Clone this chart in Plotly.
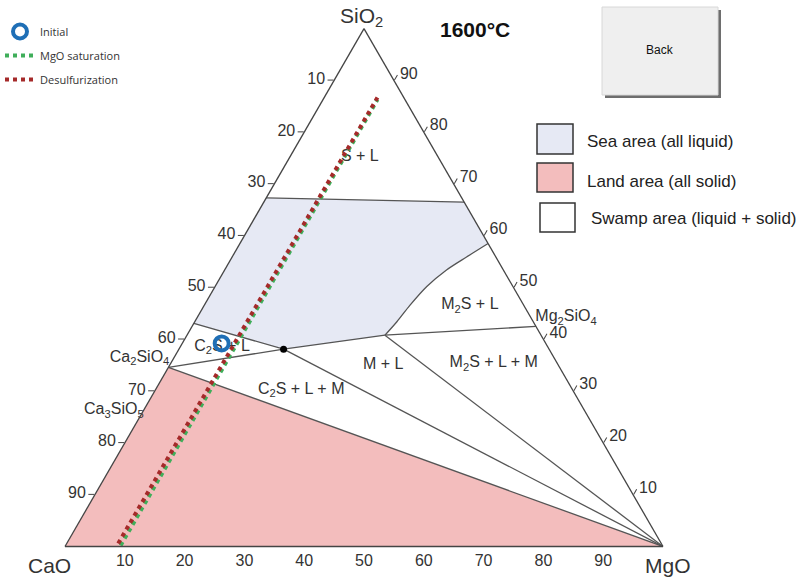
import plotly.graph_objects as go

# ---------------- data (wt%) : CaO, SiO2, MgO ----------------
tick_vals = [10, 20, 30, 40, 50, 60, 70, 80, 90]

# Sea area (all liquid)
sea_cao = [32.7, 0.0, 0.0, 4.9, 9.5, 14.4, 19.0, 22.8, 26.1, 44.4, 56.9]
sea_sio2 = [67.3, 66.5, 58.5, 55.9, 53.4, 50.2, 46.6, 43.4, 40.8, 38.1, 43.1]
sea_mgo = [0.0, 33.5, 41.5, 39.2, 37.1, 35.4, 34.4, 33.8, 33.1, 17.5, 0.0]

# Land area (all solid): Ca2SiO4 - MgO - CaO
land_cao = [65.4, 0.0, 100.0]
land_sio2 = [34.6, 0.0, 0.0]
land_mgo = [0.0, 100.0, 0.0]

# phase boundaries
top_line_cao, top_line_sio2, top_line_mgo = [32.7, 0.0], [67.3, 66.5], [0.0, 33.5]
m2s_curve_cao = [0.0, 4.9, 9.5, 14.4, 19.0, 22.8, 26.1]
m2s_curve_sio2 = [58.5, 55.9, 53.4, 50.2, 46.6, 43.4, 40.8]
m2s_curve_mgo = [41.5, 39.2, 37.1, 35.4, 34.4, 33.8, 33.1]
c2s_upper_cao, c2s_upper_sio2, c2s_upper_mgo = [56.9, 44.4, 26.1], [43.1, 38.1, 40.8], [0.0, 17.5, 33.1]
mg2sio4_line_cao, mg2sio4_line_sio2, mg2sio4_line_mgo = [26.1, 0.0], [40.8, 42.5], [33.1, 57.5]
ml_right_cao, ml_right_sio2, ml_right_mgo = [26.1, 0.0], [40.8, 0.0], [33.1, 100.0]
ml_left_cao, ml_left_sio2, ml_left_mgo = [44.4, 0.0], [38.1, 0.0], [17.5, 100.0]
c2s_lower_cao, c2s_lower_sio2, c2s_lower_mgo = [65.4, 44.4], [34.6, 38.1], [0.0, 17.5]
land_top_cao, land_top_sio2, land_top_mgo = [65.4, 0.0], [34.6, 0.0], [0.0, 100.0]

# invariant point
dot_cao, dot_sio2, dot_mgo = [44.4], [38.1], [17.5]

# MgO saturation / desulfurization paths
mgo_sat_cao, mgo_sat_sio2, mgo_sat_mgo = [90.6, 4.6], [0.2, 86.3], [9.2, 9.1]
desulf_cao, desulf_sio2, desulf_mgo = [90.8, 4.4], [0.6, 86.7], [8.6, 8.9]

# initial slag
init_cao, init_sio2, init_mgo = [54.2], [39.2], [6.6]

# region labels
lab_text = ["S + L", "M<sub>2</sub>S + L", "M + L", "M<sub>2</sub>S + L + M",
            "C<sub>2</sub>S + L", "C<sub>2</sub>S + L + M"]
lab_cao = [13.1, 9.0, 29.3, 10.6, 54.5, 45.4]
lab_sio2 = [75.2, 46.6, 35.0, 35.4, 38.5, 30.2]
lab_mgo = [11.7, 44.4, 35.7, 54.0, 7.0, 24.4]

# compound labels
cmp_text = ["Ca<sub>2</sub>SiO<sub>4</sub>", "Ca<sub>3</sub>SiO<sub>5</sub>", "Mg<sub>2</sub>SiO<sub>4</sub>"]
cmp_cao = [65.1, 73.7, 0.0]
cmp_sio2 = [34.9, 26.3, 42.7]
cmp_mgo = [0.0, 0.0, 57.3]
cmp_pos = ["top left", "middle left", "top right"]

# vertex (component) names
vtx_text = ["SiO<sub>2</sub>", "CaO", "MgO"]

# ---------------- figure ----------------
fig = go.Figure()
LINE = "#555555"
TXT = "#333333"
FONT = "Liberation Sans, Arial"

fig.add_trace(go.Scatterternary(a=sea_sio2, b=sea_cao, c=sea_mgo, mode="lines",
                                fill="toself", fillcolor="#e6e9f4", line=dict(width=0),
                                showlegend=False, hoverinfo="skip"))
fig.add_trace(go.Scatterternary(a=land_sio2, b=land_cao, c=land_mgo, mode="lines",
                                fill="toself", fillcolor="#f3bdbd", line=dict(width=0),
                                showlegend=False, hoverinfo="skip"))

fig.add_trace(go.Scatterternary(a=m2s_curve_sio2, b=m2s_curve_cao, c=m2s_curve_mgo, mode="lines",
                                line=dict(color=LINE, width=1.3, shape="spline", smoothing=0.8),
                                showlegend=False, hoverinfo="skip"))
for ca, si, mg in [(top_line_cao, top_line_sio2, top_line_mgo),
                   (c2s_upper_cao, c2s_upper_sio2, c2s_upper_mgo),
                   (mg2sio4_line_cao, mg2sio4_line_sio2, mg2sio4_line_mgo),
                   (ml_right_cao, ml_right_sio2, ml_right_mgo),
                   (ml_left_cao, ml_left_sio2, ml_left_mgo),
                   (c2s_lower_cao, c2s_lower_sio2, c2s_lower_mgo),
                   (land_top_cao, land_top_sio2, land_top_mgo)]:
    fig.add_trace(go.Scatterternary(a=si, b=ca, c=mg, mode="lines",
                                    line=dict(color=LINE, width=1.3),
                                    showlegend=False, hoverinfo="skip"))

fig.add_trace(go.Scatterternary(a=dot_sio2, b=dot_cao, c=dot_mgo, mode="markers",
                                marker=dict(color="black", size=7), showlegend=False))

fig.add_trace(go.Scatterternary(a=lab_sio2, b=lab_cao, c=lab_mgo, mode="text", text=lab_text,
                                textfont=dict(family=FONT, size=16, color=TXT),
                                showlegend=False, hoverinfo="skip"))
fig.add_trace(go.Scatterternary(a=cmp_sio2, b=cmp_cao, c=cmp_mgo, mode="text", text=cmp_text,
                                textposition=cmp_pos, cliponaxis=False,
                                textfont=dict(family=FONT, size=16, color=TXT),
                                showlegend=False, hoverinfo="skip"))

fig.add_trace(go.Scatterternary(a=mgo_sat_sio2, b=mgo_sat_cao, c=mgo_sat_mgo, mode="lines",
                                name="MgO saturation", legendrank=2, legendgroup="g2",
                                line=dict(color="#3fae5a", width=4, dash="dot")))
fig.add_trace(go.Scatterternary(a=desulf_sio2, b=desulf_cao, c=desulf_mgo, mode="lines",
                                name="Desulfurization", legendrank=3, legendgroup="g3",
                                line=dict(color="#a52a2a", width=4, dash="dot")))
fig.add_trace(go.Scatterternary(a=init_sio2, b=init_cao, c=init_mgo, mode="markers",
                                name="Initial", legendrank=1, legendgroup="g1",
                                marker=dict(symbol="circle-open", size=14, color="#1f6fb6",
                                            line=dict(width=4, color="#1f6fb6"))))

axis_common = dict(showgrid=False, linecolor="#444444", linewidth=1.3, min=0,
                   tickvals=tick_vals, tickcolor="#444444",
                   tickfont=dict(family=FONT, size=16, color=TXT))

fig.update_layout(
    width=802, height=582,
    margin=dict(l=0, r=0, t=0, b=0),
    paper_bgcolor="white",
    font=dict(family=FONT, color=TXT),
    ternary=dict(
        sum=100,
        bgcolor="white",
        domain=dict(x=[65 / 802, 663 / 802], y=[35.5 / 582, 553.4 / 582]),
        aaxis=dict(title=dict(text=""), ticks="outside", ticklen=6,
                   ticktext=[str(100 - v) for v in tick_vals], **axis_common),
        baxis=dict(title=dict(text=""), ticks="",
                   ticktext=[str(100 - v) for v in tick_vals], **axis_common),
        caxis=dict(title=dict(text=""), ticks="outside", ticklen=6,
                   ticktext=[str(100 - v) for v in tick_vals], **axis_common),
    ),
    legend=dict(x=0.0, y=1 - 17 / 582, xanchor="left", yanchor="top",
                font=dict(family="Open Sans, Arial", size=11, color="#333"),
                bgcolor="rgba(0,0,0,0)", tracegroupgap=5),
    showlegend=True,
)

# component names at the vertices
for t, (px, py) in zip(vtx_text, [(361, 17), (49, 565), (668, 565)]):
    fig.add_annotation(x=px / 802, y=1 - py / 582, xref="paper", yref="paper", text=t,
                       showarrow=False, xanchor="center", yanchor="middle",
                       font=dict(family=FONT, size=21, color=TXT))

# side key (sea / land / swamp)
key_boxes = [((537, 124), (573, 154), "#e6e9f4"), ((537, 163), (573, 192), "#f3bdbd"),
             ((540, 203), (575, 232), "white")]
key_text = ["Sea area (all liquid)", "Land area (all solid)", "Swamp area (liquid + solid)"]
key_text_pos = [(585, 141), (585, 181), (589, 218)]
for (p0, p1, col) in key_boxes:
    fig.add_shape(type="rect", xref="paper", yref="paper",
                  x0=p0[0] / 802, x1=p1[0] / 802, y0=1 - p1[1] / 582, y1=1 - p0[1] / 582,
                  fillcolor=col, line=dict(color="#333333", width=1.5))
for t, (px, py) in zip(key_text, key_text_pos):
    fig.add_annotation(x=px / 802, y=1 - py / 582, xref="paper", yref="paper", text=t,
                       showarrow=False, xanchor="left", yanchor="middle",
                       font=dict(family=FONT, size=17, color="#222"))

# Back button
fig.add_shape(type="rect", xref="paper", yref="paper", x0=605 / 802, x1=721 / 802,
              y0=1 - 98 / 582, y1=1 - 10 / 582, fillcolor="#6e6e6e", line=dict(width=0))
fig.add_shape(type="rect", xref="paper", yref="paper", x0=602 / 802, x1=718 / 802,
              y0=1 - 95 / 582, y1=1 - 7 / 582, fillcolor="#efefef", line=dict(color="#d8d8d8", width=1))
fig.add_annotation(x=660 / 802, y=1 - 50 / 582, xref="paper", yref="paper", text="Back",
                   showarrow=False, xanchor="center", yanchor="middle",
                   font=dict(family=FONT, size=12, color="#111"))

# temperature
fig.add_annotation(x=475 / 802, y=1 - 29 / 582, xref="paper", yref="paper", text="<b>1600°C</b>",
                   showarrow=False, xanchor="center", yanchor="middle",
                   font=dict(family=FONT, size=21, color="#111"))

fig.write_html("out.html", config={"displayModeBar": False},
               post_script="document.body.style.margin='0';")
